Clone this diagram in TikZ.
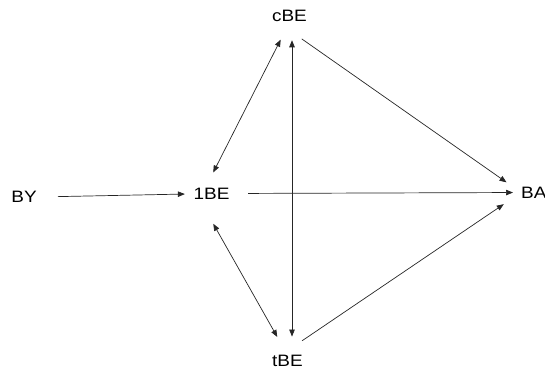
\documentclass[tikz,border=0pt]{standalone}
\usepackage{fontspec}
\usepackage{tikz}
\usetikzlibrary{arrows.meta}
\newfontfamily\diagfont{Liberation Sans}[FakeStretch=1.15]
\tikzset{
  lbl/.style={font=\diagfont\fontsize{16.5}{18}\selectfont, inner sep=0pt},
  link/.style={draw=black!85, line width=0.7pt, -{Triangle[length=7pt,width=5.5pt]}},
  dlink/.style={link, {Triangle[length=7pt,width=5.5pt]}-{Triangle[length=7pt,width=5.5pt]}}
}

\begin{document}
\begin{tikzpicture}[x=1pt, y=-1pt]
    \useasboundingbox (0,0) rectangle (545,371);

    \node[lbl] (by)  at (24, 197.3)  {BY};
    \node[lbl] (lbe) at (211.5, 193.5) {1BE};
    \node[lbl] (cbe) at (289.5, 16.3) {cBE};
    \node[lbl] (tbe) at (287.5, 361) {tBE};
    \node[lbl, anchor=west] (ba) at (521, 192.5) {BA};

    \draw[link, shorten <=21pt, shorten >=8.5pt] (by) -- (lbe);
    \draw[dlink, shorten <=17pt, shorten >=19.5pt] ([xshift=-6pt]lbe.north) -- (cbe.south);
    \draw[dlink, shorten <=28pt, shorten >=20.8pt] ([xshift=-12pt]lbe.south) -- (tbe.north);
    \draw[dlink, shorten <=18pt, shorten >=18.5pt] ([xshift=2.5pt]cbe.south) -- ([xshift=2.5pt]cbe.south |- tbe.north);
    \draw[link, shorten <=29pt, shorten >=17.7pt] ([xshift=-11.5pt]cbe.south) -- (ba.west);
    \draw[link, shorten <=18.5pt, shorten >=8pt] (lbe.east) -- (ba.west);
    \draw[link, shorten <=25.5pt, shorten >=20.8pt] ([xshift=-6.5pt]tbe.north) -- (ba.west);
  \end{tikzpicture}
\end{document}
